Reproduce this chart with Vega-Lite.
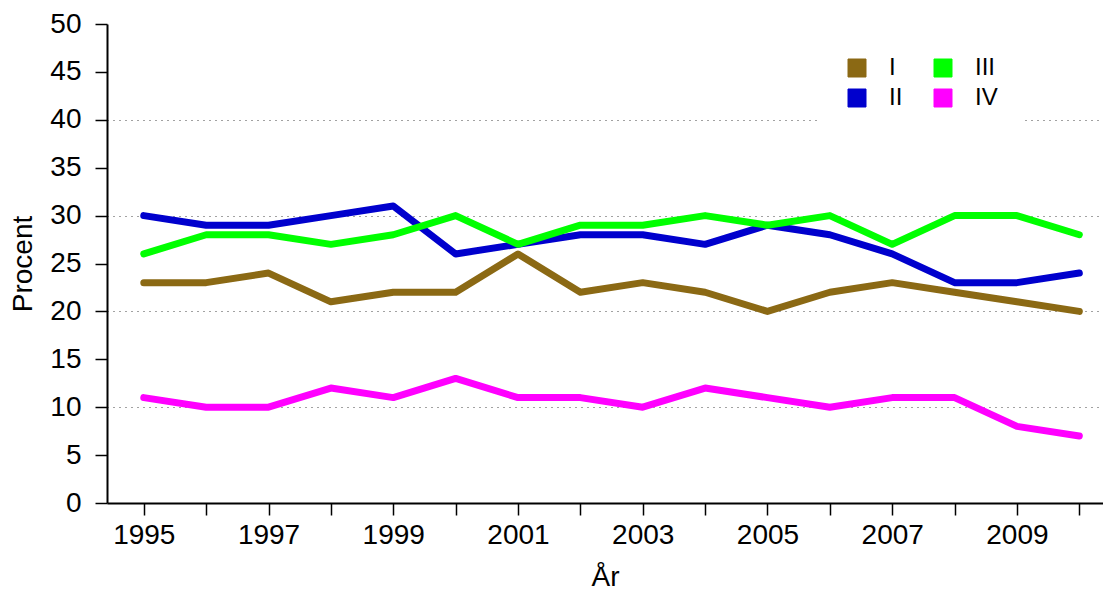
{
  "$schema": "https://vega.github.io/schema/vega-lite/v6.json",
  "width": 996,
  "height": 479,
  "autosize": "none",
  "padding": {"left": 107, "top": 24, "right": 0, "bottom": 89},
  "config": {
    "view": {"stroke": null},
    "font": "Liberation Sans",
    "axis": {"labelFont": "Liberation Sans", "titleFont": "Liberation Sans", "labelColor": "black", "titleColor": "black", "domainColor": "black", "tickColor": "black", "domainWidth": 2, "tickWidth": 1.5}
  },
  "data": {"values": [
    {"year":1995,"group":"I","value":23},{"year":1996,"group":"I","value":23},{"year":1997,"group":"I","value":24},{"year":1998,"group":"I","value":21},{"year":1999,"group":"I","value":22},{"year":2000,"group":"I","value":22},{"year":2001,"group":"I","value":26},{"year":2002,"group":"I","value":22},{"year":2003,"group":"I","value":23},{"year":2004,"group":"I","value":22},{"year":2005,"group":"I","value":20},{"year":2006,"group":"I","value":22},{"year":2007,"group":"I","value":23},{"year":2008,"group":"I","value":22},{"year":2009,"group":"I","value":21},{"year":2010,"group":"I","value":20},
    {"year":1995,"group":"II","value":30},{"year":1996,"group":"II","value":29},{"year":1997,"group":"II","value":29},{"year":1998,"group":"II","value":30},{"year":1999,"group":"II","value":31},{"year":2000,"group":"II","value":26},{"year":2001,"group":"II","value":27},{"year":2002,"group":"II","value":28},{"year":2003,"group":"II","value":28},{"year":2004,"group":"II","value":27},{"year":2005,"group":"II","value":29},{"year":2006,"group":"II","value":28},{"year":2007,"group":"II","value":26},{"year":2008,"group":"II","value":23},{"year":2009,"group":"II","value":23},{"year":2010,"group":"II","value":24},
    {"year":1995,"group":"III","value":26},{"year":1996,"group":"III","value":28},{"year":1997,"group":"III","value":28},{"year":1998,"group":"III","value":27},{"year":1999,"group":"III","value":28},{"year":2000,"group":"III","value":30},{"year":2001,"group":"III","value":27},{"year":2002,"group":"III","value":29},{"year":2003,"group":"III","value":29},{"year":2004,"group":"III","value":30},{"year":2005,"group":"III","value":29},{"year":2006,"group":"III","value":30},{"year":2007,"group":"III","value":27},{"year":2008,"group":"III","value":30},{"year":2009,"group":"III","value":30},{"year":2010,"group":"III","value":28},
    {"year":1995,"group":"IV","value":11},{"year":1996,"group":"IV","value":10},{"year":1997,"group":"IV","value":10},{"year":1998,"group":"IV","value":12},{"year":1999,"group":"IV","value":11},{"year":2000,"group":"IV","value":13},{"year":2001,"group":"IV","value":11},{"year":2002,"group":"IV","value":11},{"year":2003,"group":"IV","value":10},{"year":2004,"group":"IV","value":12},{"year":2005,"group":"IV","value":11},{"year":2006,"group":"IV","value":10},{"year":2007,"group":"IV","value":11},{"year":2008,"group":"IV","value":11},{"year":2009,"group":"IV","value":8},{"year":2010,"group":"IV","value":7}
  ]},
  "mark": {"type": "line", "strokeWidth": 7, "strokeCap": "round", "strokeJoin": "round"},
  "encoding": {
    "x": {
      "field": "year", "type": "quantitative",
      "scale": {"domain": [1994.41, 2010.38], "nice": false, "zero": false},
      "axis": {
        "title": "År", "titleFontSize": 28, "titleFontWeight": "normal", "titlePadding": 14,
        "values": [1995,1996,1997,1998,1999,2000,2001,2002,2003,2004,2005,2006,2007,2008,2009,2010],
        "format": "d",
        "labelExpr": "datum.value % 2 == 1 ? datum.label : ''",
        "labelFontSize": 28, "labelPadding": 6, "tickSize": 12, "grid": false, "labelFlush": false, "labelOverlap": false
      }
    },
    "y": {
      "field": "value", "type": "quantitative",
      "scale": {"domain": [0, 50], "nice": false},
      "axis": {
        "title": "Procent", "titleFontSize": 28, "titleFontWeight": "normal", "titlePadding": 12,
        "values": [0,5,10,15,20,25,30,35,40,45,50],
        "labelFontSize": 28, "labelPadding": 14, "tickSize": 12,
        "grid": true, "gridColor": "#444", "gridDash": [1, 5], "gridWidth": 1,
        "gridOpacity": {"condition": {"test": "datum.value % 10 === 0 && datum.value > 0 && datum.value < 50", "value": 1}, "value": 0}
      }
    },
    "color": {
      "field": "group", "type": "nominal",
      "scale": {"domain": ["I", "III", "II", "IV"], "range": ["#8B6914", "#00FF00", "#0000CD", "#FF00FF"]},
      "legend": {
        "title": null, "orient": "none", "legendX": 714, "legendY": 8,
        "columns": 2, "direction": "horizontal",
        "symbolType": "square", "symbolSize": 324, "symbolStrokeWidth": 1,
        "labelFontSize": 24, "labelOffset": 20, "columnPadding": 28, "rowPadding": 6,
        "labelLimit": 300,
        "labelExpr": "(datum.label == 'III' || datum.label == 'IV') ? datum.label + '\u00a0\u00a0\u00a0\u00a0\u00a0\u00a0\u00a0\u00a0\u00a0\u00a0\u00a0\u00a0\u00a0\u00a0\u00a0\u00a0' : datum.label",
        "fillColor": "white", "padding": 24,
        "encode": {
          "symbols": {"update": {"fill": {"scale": "color", "field": "value"}, "fillOpacity": {"value": 1}, "stroke": {"value": "#333"}}}
        }
      }
    }
  }
}
